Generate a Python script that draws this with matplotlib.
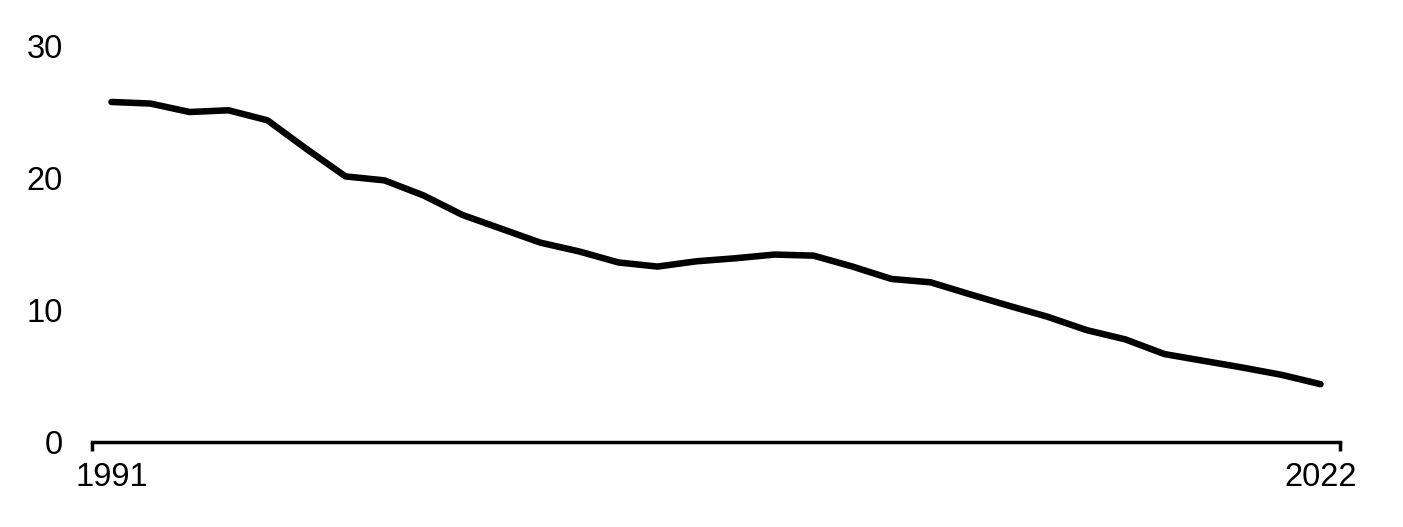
import matplotlib
matplotlib.use("Agg")
import matplotlib.pyplot as plt
from matplotlib.ticker import FixedLocator

years = list(range(1991, 2023))
values = [25.76, 25.64, 25.0, 25.13, 24.37, 22.2, 20.12, 19.82, 18.68, 17.2,
          16.15, 15.1, 14.43, 13.6, 13.29, 13.69, 13.92, 14.2, 14.12, 13.29,
          12.35, 12.1, 11.2, 10.33, 9.49, 8.48, 7.77, 6.66, 6.15, 5.64,
          5.09, 4.38]
xtick_labels = ["1991", "2022"]
yticks = [0, 10, 20, 30]

plt.rcParams['font.family'] = ['Liberation Sans', 'DejaVu Sans']

fig = plt.figure(figsize=(14.03, 5.27), dpi=100)
ax = fig.add_axes([92/1403, 1 - 442/527, (1340-92)/1403, (442-46)/527])

ax.plot(years, values, color='black', linewidth=4.7, solid_capstyle='round', solid_joinstyle='round')

ax.set_xlim(years[0] - 0.5, years[-1] + 0.5)
ax.set_ylim(0, 30)

for s in ['top', 'right', 'left']:
    ax.spines[s].set_visible(False)
ax.spines['bottom'].set_linewidth(2.5)
ax.spines['bottom'].set_capstyle('projecting')

ax.set_xticks([years[0], years[-1]])
ax.set_xticklabels(xtick_labels)
ax.xaxis.set_minor_locator(FixedLocator([years[0] - 0.5, years[-1] + 0.5]))
ax.tick_params(axis='x', which='major', length=0, pad=14.5, labelsize=23.5)
ax.tick_params(axis='x', which='minor', length=6.5, width=2.5, direction='out')

ax.set_yticks(yticks)
ax.tick_params(axis='y', length=0, pad=21, labelsize=23.5)

fig.savefig("out.png", dpi=100)
